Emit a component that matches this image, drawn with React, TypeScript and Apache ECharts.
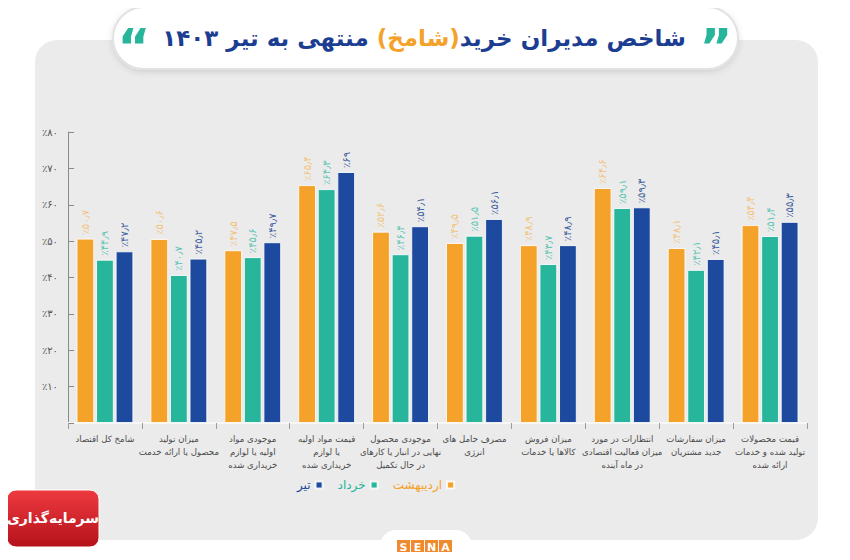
import React, { useEffect, useRef } from 'react';
import * as echarts from 'echarts';

const categories = [
  'شامخ کل اقتصاد',
  'میزان تولید\nمحصول یا ارائه خدمت',
  'موجودی مواد\nاولیه یا لوازم\nخریداری شده',
  'قیمت مواد اولیه\nیا لوازم\nخریداری شده',
  'موجودی محصول\nنهایی در انبار یا کارهای\nدر حال تکمیل',
  'مصرف حامل های\nانرژی',
  'میزان فروش\nکالاها یا خدمات',
  'انتظارات در مورد\nمیزان فعالیت اقتصادی\nدر ماه آینده',
  'میزان سفارشات\nجدید مشتریان',
  'قیمت محصولات\nتولید شده و خدمات\nارائه شده',
];
const seriesNames = ['اردیبهشت', 'خرداد', 'تیر'];
const ordibehesht = [50.7, 50.6, 47.5, 65.4, 52.6, 49.5, 48.9, 64.6, 48.1, 54.4];
const khordad = [44.9, 40.7, 45.6, 64.3, 46.4, 51.5, 43.7, 59.1, 42.1, 51.4];
const tir = [47.2, 45.2, 49.7, 69, 54.1, 56.1, 48.9, 59.3, 45.1, 55.3];
const yMin = 0;
const yMax = 80;
const yStep = 10;

const colors = ['#f5a22a', '#27b59b', '#1d4a9f'];
const labelColors = ['#f3c27a', '#5cc6b3', '#3e5f9e'];
const FONT = "'DejaVu Sans', sans-serif";

const FA = '۰۱۲۳۴۵۶۷۸۹';
const toFa = (v: number) => String(v).replace(/\d/g, (d) => FA[+d]).replace('.', '٫');

export default function App() {
  const ref = useRef<HTMLDivElement>(null);
  useEffect(() => {
    if (!ref.current) return;
    const chart = echarts.init(ref.current, undefined, { renderer: 'svg' });
    const dataSets = [ordibehesht, khordad, tir];
    const option: any = {
      animation: false,
      backgroundColor: '#ffffff',
      textStyle: { fontFamily: FONT },
      grid: { left: 68, right: 43, top: 132, bottom: 137, containLabel: false },
      legend: {
        left: 292,
        top: 474,
        itemWidth: 7,
        itemHeight: 7,
        itemGap: 14,
        align: 'right',
        icon: 'rect',
        data: [
          { name: seriesNames[2], textStyle: { color: colors[2] } },
          { name: seriesNames[1], textStyle: { color: colors[1] } },
          { name: seriesNames[0], textStyle: { color: colors[0] } },
        ],
        textStyle: { fontFamily: FONT, fontSize: 12 },
      },
      xAxis: {
        type: 'category',
        data: categories,
        axisLine: { lineStyle: { color: '#f7f7f7', width: 2 } },
        axisTick: { show: true, length: 6, lineStyle: { color: '#9a9a9a' } },
        axisLabel: {
          interval: 0,
          color: '#4a4a4a',
          fontSize: 8.6,
          lineHeight: 13,
          margin: 9,
          fontFamily: FONT,
          align: 'center',
        },
      },
      yAxis: {
        type: 'value',
        min: yMin,
        max: yMax,
        interval: yStep,
        splitLine: { show: false },
        axisLine: { show: true, lineStyle: { color: '#8a8a8a', width: 1 } },
        axisTick: { show: true, inside: true, length: 6, lineStyle: { color: '#8a8a8a' } },
        axisLabel: {
          color: '#555',
          fontSize: 10,
          margin: 10,
          fontFamily: FONT,
          formatter: (v: number) => (v === 0 ? '' : '٪' + toFa(v)),
        },
      },
      series: seriesNames.map((name, i) => ({
        name,
        type: 'bar',
        data: dataSets[i],
        barGap: '10%',
        barCategoryGap: '23%',
        itemStyle: { color: colors[i], borderColor: 'rgba(255,255,255,0.85)', borderWidth: 1 },
        label: {
          show: true,
          position: 'top',
          rotate: 90,
          align: 'left',
          verticalAlign: 'middle',
          distance: 4,
          color: labelColors[i],
          fontSize: 10,
          fontFamily: FONT,
          formatter: (p: any) => '٪' + toFa(p.value),
        },
      })),
      graphic: [
        {
          type: 'rect',
          z: -10,
          silent: true,
          shape: { x: 35, y: 40, width: 783, height: 500, r: 22 },
          style: { fill: '#ebebeb' },
        },
        {
          type: 'rect',
          z: 5,
          silent: true,
          shape: { x: 113, y: 7, width: 625, height: 62, r: 31 },
          style: {
            fill: '#ffffff',
            stroke: '#e2e2e2',
            lineWidth: 2,
            shadowBlur: 6,
            shadowColor: 'rgba(0,0,0,0.12)',
            shadowOffsetY: 2,
          },
        },
        {
          type: 'text',
          z: 6,
          silent: true,
          x: 424,
          y: 38,
          style: {
            text: '{a|منتهی به تیر ۱۴۰۳ }{b|(شامخ)}{a|شاخص مدیران خرید}',
            align: 'center',
            verticalAlign: 'middle',
            rich: {
              a: { fontFamily: FONT, fontSize: 23, fontWeight: 'bold', fill: '#1c3e92' },
              b: { fontFamily: FONT, fontSize: 23, fontWeight: 'bold', fill: '#f5a22a' },
            },
          },
        },
        {
          type: 'text',
          z: 6,
          silent: true,
          x: 716,
          y: 22,
          style: {
            text: '”',
            fontFamily: FONT,
            fontSize: 50,
            fontWeight: 'bold',
            fill: '#27b59b',
            align: 'center',
            verticalAlign: 'top',
          },
        },
        {
          type: 'text',
          z: 6,
          silent: true,
          x: 134,
          y: 22,
          style: {
            text: '“',
            fontFamily: FONT,
            fontSize: 50,
            fontWeight: 'bold',
            fill: '#27b59b',
            align: 'center',
            verticalAlign: 'top',
          },
        },
        // SENA tab
        {
          type: 'rect',
          z: 5,
          silent: true,
          shape: { x: 380, y: 530, width: 92, height: 40, r: 16 },
          style: { fill: '#ffffff' },
        },
        ...['S', 'E', 'N', 'A'].map((ch, k) => ({
          type: 'rect',
          z: 6,
          silent: true,
          shape: { x: 397 + k * 14, y: 540, width: 13, height: 14 },
          style: { fill: '#ef8a2e' },
        })),
        ...['S', 'E', 'N', 'A'].map((ch, k) => ({
          type: 'text',
          z: 7,
          silent: true,
          x: 397 + k * 14 + 6.5,
          y: 547,
          style: {
            text: ch,
            fontFamily: FONT,
            fontSize: 11,
            fontWeight: 'bold',
            fill: '#ffffff',
            align: 'center',
            verticalAlign: 'middle',
          },
        })),
        // red logo
        {
          type: 'rect',
          z: 6,
          silent: true,
          shape: { x: 7, y: 490, width: 92, height: 57, r: 9 },
          style: {
            fill: new echarts.graphic.LinearGradient(0, 0, 0, 1, [
              { offset: 0, color: '#ee3a40' },
              { offset: 1, color: '#b5121b' },
            ]),
            stroke: '#ffffff',
            lineWidth: 1,
          },
        },
        {
          type: 'text',
          z: 7,
          silent: true,
          x: 53,
          y: 518,
          style: {
            text: 'سرمایه‌گذاری',
            fontFamily: FONT,
            fontSize: 14,
            fontWeight: 'bold',
            fill: '#ffffff',
            align: 'center',
            verticalAlign: 'middle',
          },
        },
      ],
    };
    chart.setOption(option);
    return () => chart.dispose();
  }, []);
  return <div ref={ref} style={{ width: 850, height: 560, margin: -8 }} />;
}
